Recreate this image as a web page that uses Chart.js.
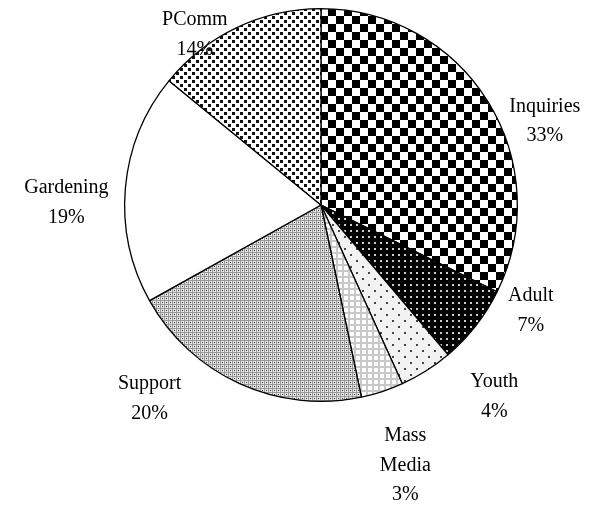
<!DOCTYPE html>
<html>
<head>
<meta charset="utf-8">
<script src="https://cdn.jsdelivr.net/npm/chart.js@4.4.1/dist/chart.umd.min.js"></script>
<style>
html, body { margin: 0; padding: 0; background: #fff; }
</style>
</head>
<body>
<canvas id="chart" width="605" height="508"></canvas>
<script>
// data (shares estimated from the slice edges)
var categories = ['Inquiries', 'Adult', 'Youth', 'Mass Media', 'Support', 'Gardening', 'PComm'];
var shares = [32.3, 6.5, 4.4, 3.5, 20.2, 19.0, 14.1];
var percentLabels = ['33%', '7%', '4%', '3%', '20%', '19%', '14%'];
var labelLines = [['Inquiries'], ['Adult'], ['Youth'], ['Mass', 'Media'], ['Support'], ['Gardening'], ['PComm']];

// where each label block sits relative to the middle of its arc's rim
var labelOffsets = [[57, 20], [55, -15], [68, 26], [23, 74], [-90, 15], [-59, 15], [-42, 7]];

var ctx = document.getElementById('chart').getContext('2d');

function makePattern(w, h, draw) {
    var c = document.createElement('canvas');
    c.width = w;
    c.height = h;
    var g = c.getContext('2d');
    draw(g);
    return ctx.createPattern(c, 'repeat');
}

var checker = makePattern(16, 16, function(g) {
    g.fillStyle = '#fff';
    g.fillRect(0, 0, 16, 16);
    g.fillStyle = '#000';
    g.fillRect(0, 0, 8, 8);
    g.fillRect(8, 8, 8, 8);
});

var blackDots = makePattern(6, 6, function(g) {
    g.fillStyle = '#000';
    g.fillRect(0, 0, 6, 6);
    g.fillStyle = '#ccc';
    g.fillRect(2, 2, 2, 2);
});

var sparseDots = makePattern(12, 12, function(g) {
    g.fillStyle = '#f2f2f2';
    g.fillRect(0, 0, 12, 12);
    g.fillStyle = '#444';
    g.fillRect(2, 2, 2, 2);
    g.fillRect(8, 8, 2, 2);
});

var grid = makePattern(6, 6, function(g) {
    g.fillStyle = '#fff';
    g.fillRect(0, 0, 6, 6);
    g.fillStyle = '#c8c8c8';
    g.fillRect(0, 0, 6, 2);
    g.fillRect(0, 0, 2, 6);
});

var fineDots = makePattern(4, 4, function(g) {
    g.fillStyle = '#e6e6e6';
    g.fillRect(0, 0, 4, 4);
    g.fillStyle = '#999';
    g.fillRect(0, 0, 1, 4);
    g.fillRect(0, 0, 4, 1);
    g.fillStyle = '#333';
    g.fillRect(2, 2, 1, 1);
});

var squareDots = makePattern(8, 8, function(g) {
    g.fillStyle = '#fff';
    g.fillRect(0, 0, 8, 8);
    g.fillStyle = '#111';
    g.fillRect(0, 0, 3, 3);
    g.fillRect(4, 4, 3, 3);
});

var fills = [checker, blackDots, sparseDots, grid, fineDots, '#fff', squareDots];

var outsideLabels = {
    id: 'outsideLabels',
    afterDatasetsDraw: function(chart) {
        var g = chart.ctx;
        var arcs = chart.getDatasetMeta(0).data;
        g.save();
        g.fillStyle = '#000';
        g.font = '20px "Liberation Serif", "Times New Roman", serif';
        g.textAlign = 'center';
        g.textBaseline = 'middle';
        var lineH = 29.5;
        arcs.forEach(function(arc, i) {
            var p = arc.getProps(['x', 'y', 'startAngle', 'endAngle', 'outerRadius'], true);
            var mid = (p.startAngle + p.endAngle) / 2;
            var ex = p.x + p.outerRadius * Math.cos(mid);
            var ey = p.y + p.outerRadius * Math.sin(mid);
            var lines = labelLines[i].concat([percentLabels[i]]);
            var cx = ex + labelOffsets[i][0];
            var cy = ey + labelOffsets[i][1] - (lines.length - 1) * lineH / 2;
            lines.forEach(function(t, k) {
                g.fillText(t, cx, cy + k * lineH);
            });
        });
        g.restore();
    }
};

var chart = new Chart(ctx, {
    type: 'pie',
    data: {
        labels: categories,
        datasets: [{
            data: shares,
            backgroundColor: fills,
            borderColor: '#000',
            borderWidth: 1.3,
            hoverOffset: 0
        }]
    },
    options: {
        responsive: false,
        animation: false,
        layout: {
            padding: { left: 124, right: 87, top: 8, bottom: 106 }
        },
        plugins: {
            legend: { display: false },
            tooltip: { enabled: false }
        }
    },
    plugins: [outsideLabels]
});
</script>
</body>
</html>
